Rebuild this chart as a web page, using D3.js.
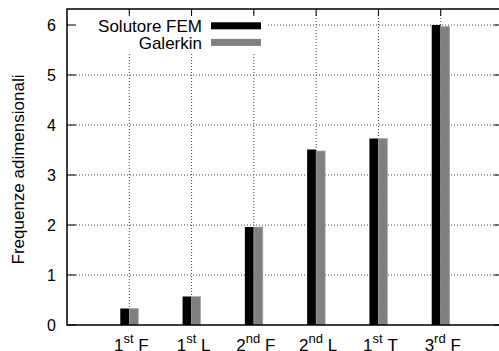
<!DOCTYPE html>
<html>
<head>
<meta charset="utf-8">
<script src="https://cdn.jsdelivr.net/npm/d3@7"></script>
<style>
  body { margin: 0; background: #fff; }
  svg { display: block; font-family: "Liberation Sans", Arial, Helvetica, sans-serif; }
</style>
</head>
<body>
<div id="chart"></div>
<script>
// mode labels: number, superscript, letter
const modeNum = ["1", "1", "2", "2", "1", "3"];
const modeSup = ["st", "st", "nd", "nd", "st", "rd"];
const modeLetter = ["F", "L", "F", "L", "T", "F"];

const femValues = [0.33, 0.57, 1.96, 3.51, 3.73, 6.00];
const galerkinValues = [0.33, 0.57, 1.96, 3.48, 3.73, 5.97];

const seriesNames = ["Solutore FEM", "Galerkin"];
const seriesColors = ["#000000", "#808080"];
const yTicks = [0, 1, 2, 3, 4, 5, 6];

const W = 499, H = 351;
const margin = { left: 67, top: 9, bottom: 26 };
const plotW = 436;   // right border falls just outside the picture
const plotH = H - margin.top - margin.bottom;

const svg = d3.select("#chart").append("svg")
    .attr("width", W)
    .attr("height", H);

const g = svg.append("g")
    .attr("transform", `translate(${margin.left}, ${margin.top})`);

// scales
const x = d3.scaleLinear().domain([-1, 6]).range([0, plotW]);
const y = d3.scaleLinear().domain([0, 6.32]).range([plotH, 0]);
const xSub = d3.scaleBand().domain([0, 1]).range([-9, 9]);

const rows = modeNum.map((n, i) => ({ i, fem: femValues[i], gal: galerkinValues[i] }));

// grid lines (dotted)
g.append("g").selectAll("line")
    .data(yTicks.filter(d => d > 0))
    .enter().append("line")
    .attr("x1", 0).attr("x2", plotW)
    .attr("y1", d => y(d)).attr("y2", d => y(d))
    .attr("stroke", "#444").attr("stroke-width", 1)
    .attr("stroke-dasharray", "1,2");

g.append("g").selectAll("line")
    .data(rows)
    .enter().append("line")
    .attr("x1", d => x(d.i)).attr("x2", d => x(d.i))
    .attr("y1", 0).attr("y2", plotH)
    .attr("stroke", "#444").attr("stroke-width", 1)
    .attr("stroke-dasharray", "1,2");

// bars
const bars = g.append("g").selectAll("g")
    .data(rows)
    .enter().append("g")
    .attr("transform", d => `translate(${x(d.i)}, 0)`);

bars.append("rect")
    .attr("x", xSub(0))
    .attr("y", d => y(d.fem))
    .attr("width", xSub.bandwidth())
    .attr("height", d => plotH - y(d.fem))
    .attr("fill", seriesColors[0]);

bars.append("rect")
    .attr("x", xSub(1))
    .attr("y", d => y(d.gal))
    .attr("width", xSub.bandwidth())
    .attr("height", d => plotH - y(d.gal))
    .attr("fill", seriesColors[1])
    .attr("stroke", "#a8a8a8")
    .attr("stroke-width", 0.6);

// legend (white box hides the grid behind it)
g.append("rect")
    .attr("x", 1).attr("y", 6)
    .attr("width", 200).attr("height", 37)
    .attr("fill", "#fff");

const legend = g.append("g").selectAll("g")
    .data(seriesNames)
    .enter().append("g")
    .attr("transform", (d, i) => `translate(0, ${i * 16.6})`);

legend.append("text")
    .attr("x", 135).attr("y", 23)
    .attr("text-anchor", "end")
    .style("font-size", "17px")
    .text(d => d);

legend.append("rect")
    .attr("x", 144).attr("y", 13.3)
    .attr("width", 50).attr("height", 7)
    .attr("fill", (d, i) => seriesColors[i]);

// ticks (inward, mirrored)
const tickG = g.append("g").attr("stroke", "#000").attr("stroke-width", 1);
yTicks.forEach(t => {
    tickG.append("line").attr("x1", 0).attr("x2", 9).attr("y1", y(t)).attr("y2", y(t));
    tickG.append("line").attr("x1", plotW).attr("x2", plotW - 9).attr("y1", y(t)).attr("y2", y(t));
});
rows.forEach(d => {
    tickG.append("line").attr("x1", x(d.i)).attr("x2", x(d.i)).attr("y1", 0).attr("y2", 7);
});

// frame
g.append("rect")
    .attr("x", 0).attr("y", 0)
    .attr("width", plotW).attr("height", plotH)
    .attr("fill", "none")
    .attr("stroke", "#000")
    .attr("stroke-width", 1.5);

// y tick labels
g.append("g").selectAll("text")
    .data(yTicks)
    .enter().append("text")
    .attr("x", -11)
    .attr("y", d => y(d))
    .attr("dy", "0.36em")
    .attr("text-anchor", "end")
    .style("font-size", "16px")
    .text(d => d);

// x tick labels: 1^{st} F
const xl = g.append("g").selectAll("text")
    .data(rows)
    .enter().append("text")
    .attr("x", d => x(d.i) + 2)
    .attr("y", plotH + 25.5)
    .attr("text-anchor", "middle")
    .style("font-size", "17px");

xl.append("tspan").text(d => modeNum[d.i]);
xl.append("tspan").attr("dy", -8).style("font-size", "13px").text(d => modeSup[d.i]);
xl.append("tspan").attr("dy", 8).text(d => "\u00a0" + modeLetter[d.i]);

// y axis title
svg.append("text")
    .attr("transform", "translate(24, 169.5) rotate(-90)")
    .attr("text-anchor", "middle")
    .style("font-size", "17px")
    .text("Frequenze adimensionali");
</script>
</body>
</html>
